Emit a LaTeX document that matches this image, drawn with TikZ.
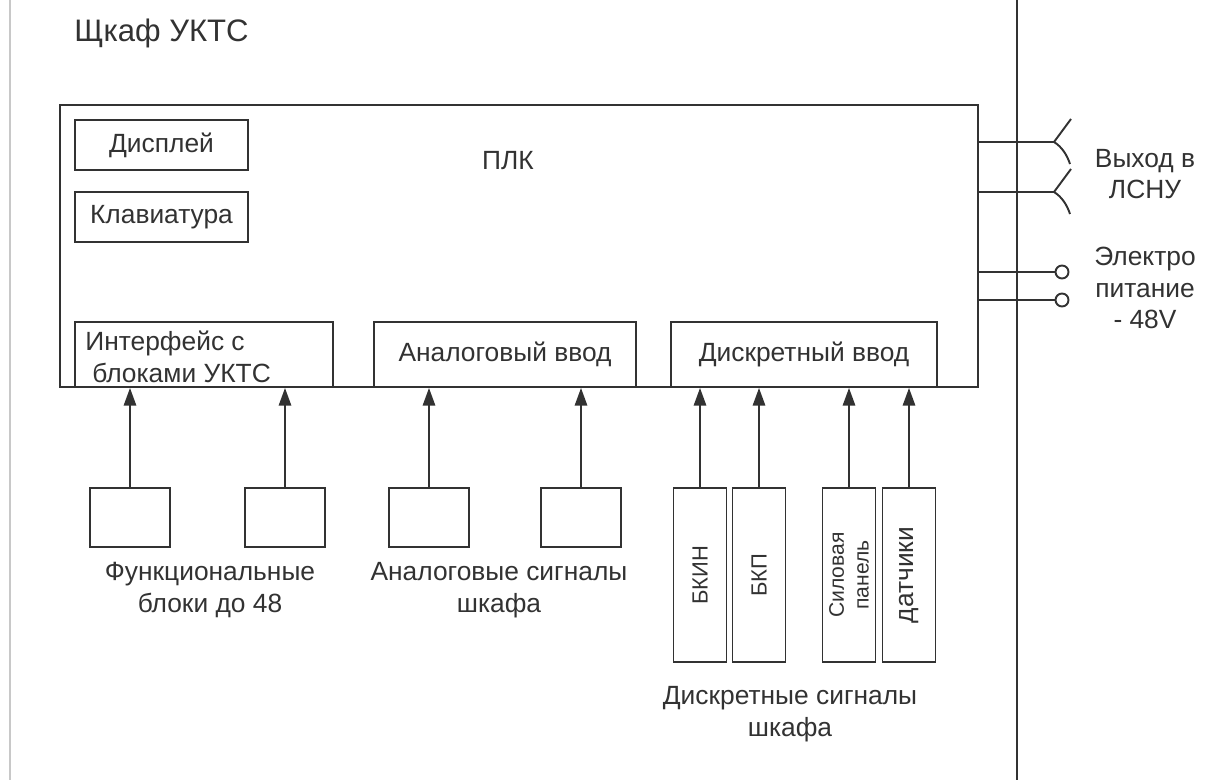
\documentclass[tikz,border=0pt]{standalone}
\usepackage{fontspec}
\setmainfont{Liberation Sans}
\usetikzlibrary{arrows.meta}
\definecolor{inkgray}{RGB}{50,50,50}
\definecolor{edgegray}{RGB}{200,200,200}

\begin{document}
\begin{tikzpicture}[x=0.02cm,y=-0.02cm,
  font=\fontsize{15}{18}\selectfont,text=inkgray,
  box/.style={draw=inkgray,line width=1.1pt,inner sep=0pt},
  sig/.style={draw=inkgray,line width=1.1pt,-{Triangle[length=10pt,width=7pt]}},
  wire/.style={draw=inkgray,line width=1.1pt},
  caption/.style={align=center,inner sep=0pt},
  vtext/.style={rotate=90,align=center,inner sep=0pt},
  terminal/.style={circle,draw=inkgray,line width=1.1pt,minimum size=0.26cm,inner sep=0pt}]

\useasboundingbox (0,0) rectangle (1210,780);

% cabinet borders
\draw[draw=edgegray,line width=1.2pt] (10,0) -- (10,780);
\draw[wire] (1017,0) -- (1017,780);

\node[anchor=base west,inner sep=0pt,font=\fontsize{17.7}{21}\selectfont] (title) at (74,42) {Щкаф УКТС};

% PLC and its modules
\node[box,minimum width=18.36cm,minimum height=5.64cm] (plc) at (519,246) {};
\node (plcname) at (508,161) {ПЛК};
\node[box,minimum width=3.46cm,minimum height=1cm] (disp) at (161.5,145) {Дисплей};
\node[box,minimum width=3.46cm,minimum height=1cm] (kbd) at (161.5,217) {Клавиатура};
\node[box,minimum width=5.16cm,minimum height=1.3cm] (ifc) at (204,354.5) {};
\node[anchor=north west,align=left,inner sep=0pt] (ifctext) at (85,331) {Интерфейс с\\\hspace*{4pt}блоками УКТС};
\node[box,minimum width=5.24cm,minimum height=1.3cm] (ain) at (505,354.5) {Аналоговый ввод};
\node[box,minimum width=5.32cm,minimum height=1.3cm] (din) at (804,354.5) {Дискретный ввод};

% outputs to the right
\coordinate (lsnu1) at (1054,142);
\coordinate (lsnu2) at (1054,192);
\draw[wire] (plc.east |- lsnu1) -- (lsnu1) -- (1071,119);
\draw[wire] (lsnu1) .. controls (1062,147) and (1067,155) .. (1070,164);
\draw[wire] (plc.east |- lsnu2) -- (lsnu2) -- (1071,169);
\draw[wire] (lsnu2) .. controls (1062,197) and (1067,205) .. (1070,214);
\node[caption] (lsnu) at (1145,174) {Выход в\\ЛСНУ};

\node[terminal] (pw1) at (1062,272) {};
\node[terminal] (pw2) at (1062,300) {};
\draw[wire] (plc.east |- pw1) -- (pw1);
\draw[wire] (plc.east |- pw2) -- (pw2);
\node[caption] (power) at (1145,288) {Электро\\питание\\- 48V};

% function blocks
\node[box,minimum width=1.6cm,minimum height=1.18cm] (fb1) at (130,517.5) {};
\node[box,minimum width=1.6cm,minimum height=1.18cm] (fb2) at (285,517.5) {};
\draw[sig] (fb1) -- (fb1 |- ifc.south);
\draw[sig] (fb2) -- (fb2 |- ifc.south);
\node[caption] (fbtext) at (210,590) {Функциональные\\блоки до 48};

% analog signals
\node[box,minimum width=1.6cm,minimum height=1.18cm] (as1) at (429,517.5) {};
\node[box,minimum width=1.6cm,minimum height=1.18cm] (as2) at (581,517.5) {};
\draw[sig] (as1) -- (as1 |- ain.south);
\draw[sig] (as2) -- (as2 |- ain.south);
\node[caption] (astext) at (499,590) {Аналоговые сигналы\\шкафа};

% discrete signals
\node[box,minimum width=1.06cm,minimum height=3.48cm] (bkin) at (700,575) {};
\node[box,minimum width=1.06cm,minimum height=3.48cm] (bkp) at (759,575) {};
\node[box,minimum width=1.06cm,minimum height=3.48cm] (silp) at (849,575) {};
\node[box,minimum width=1.06cm,minimum height=3.48cm] (sens) at (909,575) {};
\node[vtext,font=\fontsize{12.5}{15}\selectfont] at (bkin) {БКИН};
\node[vtext,font=\fontsize{12.5}{15}\selectfont] at (bkp) {БКП};
\node[vtext,font=\fontsize{12}{14}\selectfont] at (silp) {Силовая\\панель};
\node[vtext] at (sens) {датчики};
\draw[sig] (bkin) -- (bkin |- din.south);
\draw[sig] (bkp) -- (bkp |- din.south);
\draw[sig] (silp) -- (silp |- din.south);
\draw[sig] (sens) -- (sens |- din.south);
\node[caption] (dstext) at (790,714) {Дискретные сигналы\\шкафа};
\end{tikzpicture}
\end{document}
